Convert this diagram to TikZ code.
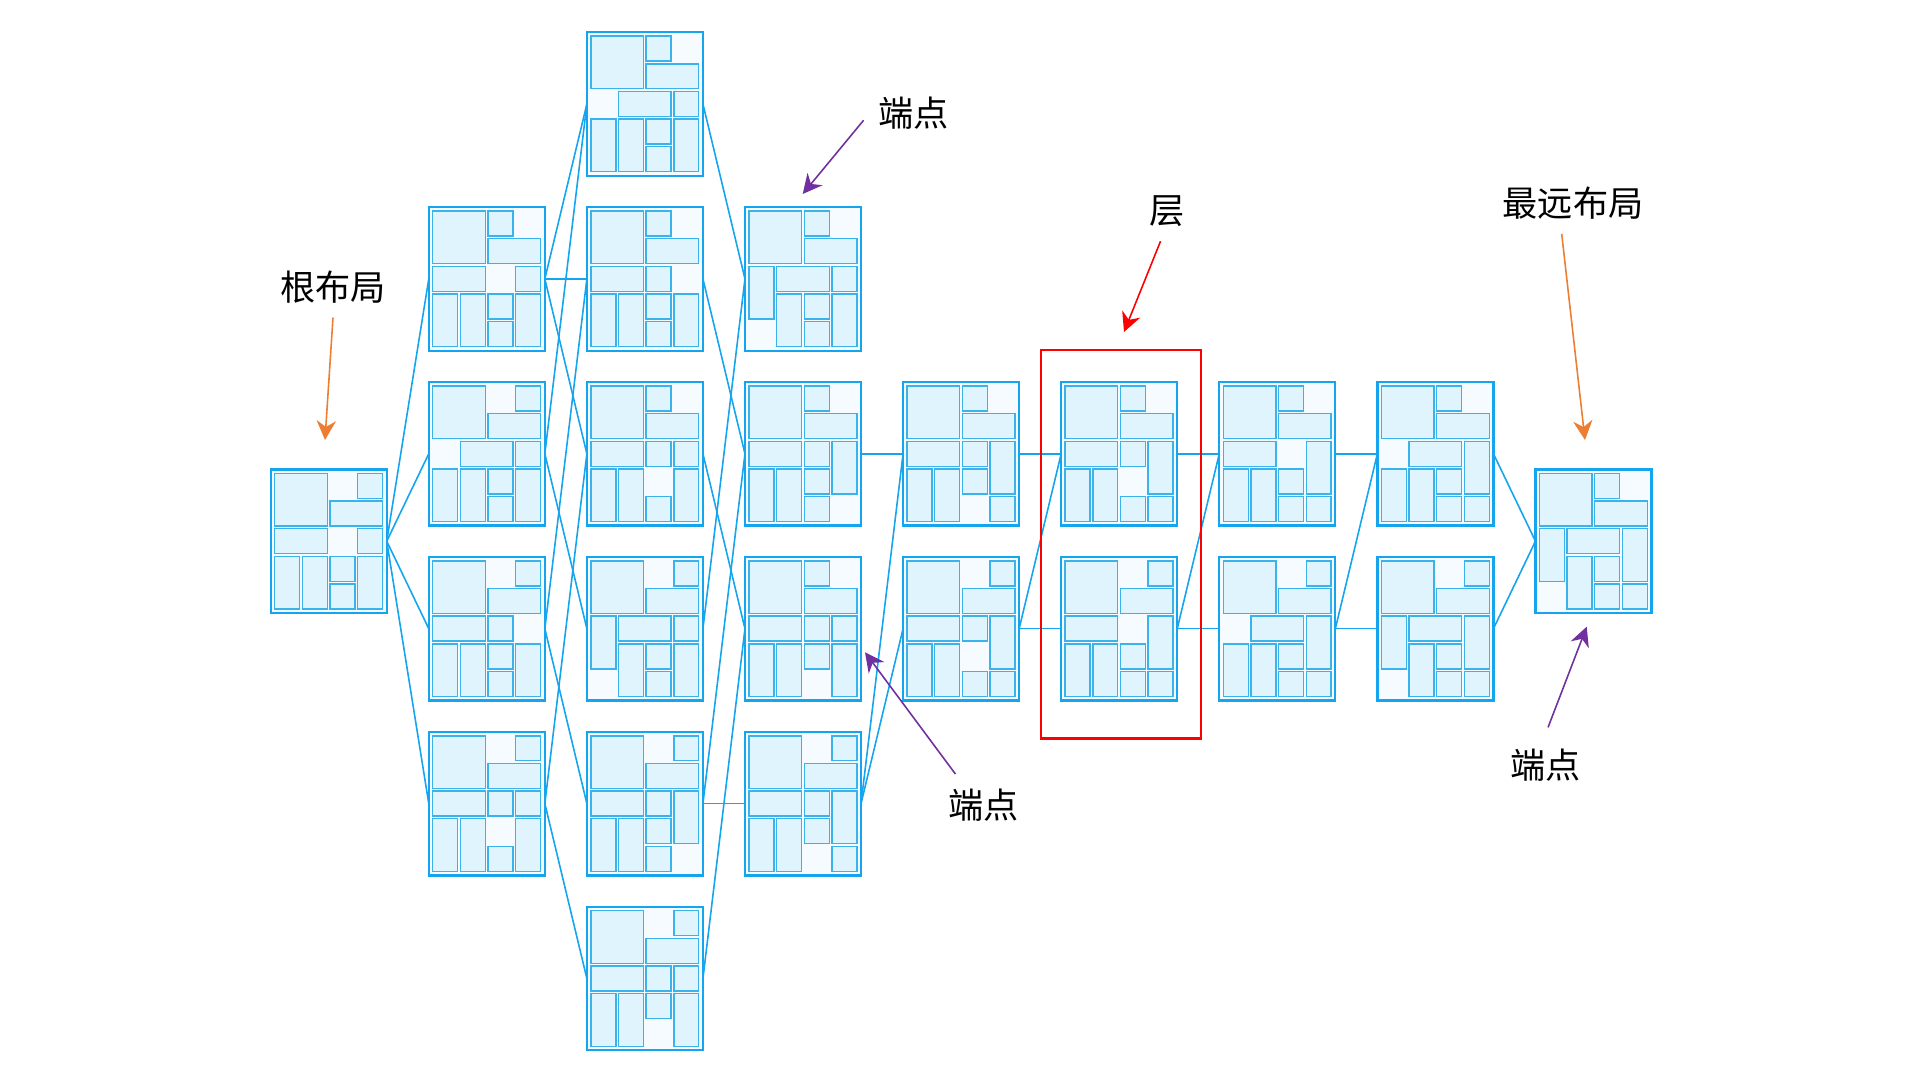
\documentclass[tikz,border=0pt]{standalone}
\usepackage{fontspec}
\newfontfamily\cjk{Noto Sans CJK SC}
\usepackage{tikz}
\usetikzlibrary{arrows.meta,calc,positioning}
\definecolor{cardline}{HTML}{14A5EE}
\definecolor{cardfill}{HTML}{F5FBFE}
\definecolor{cellfill}{HTML}{E0F4FD}
\definecolor{cellline}{HTML}{3AB2EC}
\definecolor{arrorange}{HTML}{ED7D31}
\definecolor{arrpurple}{HTML}{7030A0}
\tikzset{
 card/.style={draw=cardline,fill=cardfill,line width=0.65pt,minimum width=1.16cm,minimum height=1.435cm,inner sep=0pt,outer sep=0pt},
 cellbox/.style={draw=cellline,fill=cellfill,line width=0.4pt},
 linkline/.style={draw=cardline,line width=0.45pt},
 lbl/.style={font=\cjk\fontsize{10}{12}\selectfont,inner sep=4pt},
 hint/.style={-{Stealth[length=5.5pt,width=5.5pt,inset=1.8pt]},line width=0.45pt},
}
% one layout: name, centre, cells col/row/width/height on a 4x5 grid
\newcommand{\layoutcard}[3]{%
 \node[card] (#1) at (#2) {};
 \begin{scope}[shift={(#1.north west)}]
 \foreach \cc/\rr/\ww/\hh in {#3}
  \draw[cellbox] (4+27.65*\cc,4+27.65*\rr) rectangle ++(27.65*\ww-2.7,27.65*\hh-2.7);
 \end{scope}}

\begin{document}
\begin{tikzpicture}[x=0.01cm,y=-0.01cm]
\useasboundingbox (0,0) rectangle (1920,1080);
% root
\layoutcard{R}{328.7,541.2}{0/0/2/2,3/0/1/1,2/1/2/1,0/2/2/1,3/2/1/1,0/3/1/2,1/3/1/2,2/3/1/1,2/4/1/1,3/3/1/2}
% first layer
\layoutcard{A2}{486.8,278.9}{0/0/2/2,2/0/1/1,2/1/2/1,0/2/2/1,3/2/1/1,0/3/1/2,1/3/1/2,2/3/1/1,2/4/1/1,3/3/1/2}
\layoutcard{A3}{486.8,453.8}{0/0/2/2,3/0/1/1,2/1/2/1,1/2/2/1,3/2/1/1,0/3/1/2,1/3/1/2,2/3/1/1,2/4/1/1,3/3/1/2}
\layoutcard{A4}{486.8,628.7}{0/0/2/2,3/0/1/1,2/1/2/1,0/2/2/1,2/2/1/1,0/3/1/2,1/3/1/2,2/3/1/1,2/4/1/1,3/3/1/2}
\layoutcard{A5}{486.8,803.6}{0/0/2/2,3/0/1/1,2/1/2/1,0/2/2/1,2/2/1/1,3/2/1/1,0/3/1/2,1/3/1/2,2/4/1/1,3/3/1/2}
% second layer
\layoutcard{B1}{644.9,104}{0/0/2/2,2/0/1/1,2/1/2/1,1/2/2/1,3/2/1/1,0/3/1/2,1/3/1/2,2/3/1/1,2/4/1/1,3/3/1/2}
\layoutcard{B2}{644.9,278.9}{0/0/2/2,2/0/1/1,2/1/2/1,0/2/2/1,2/2/1/1,0/3/1/2,1/3/1/2,2/3/1/1,2/4/1/1,3/3/1/2}
\layoutcard{B3}{644.9,453.8}{0/0/2/2,2/0/1/1,2/1/2/1,0/2/2/1,2/2/1/1,3/2/1/1,0/3/1/2,1/3/1/2,2/4/1/1,3/3/1/2}
\layoutcard{B4}{644.9,628.7}{0/0/2/2,3/0/1/1,2/1/2/1,0/2/1/2,1/2/2/1,3/2/1/1,1/3/1/2,2/3/1/1,2/4/1/1,3/3/1/2}
\layoutcard{B5}{644.9,803.6}{0/0/2/2,3/0/1/1,2/1/2/1,0/2/2/1,2/2/1/1,3/2/1/2,0/3/1/2,1/3/1/2,2/3/1/1,2/4/1/1}
\layoutcard{B6}{644.9,978.5}{0/0/2/2,3/0/1/1,2/1/2/1,0/2/2/1,2/2/1/1,3/2/1/1,0/3/1/2,1/3/1/2,2/3/1/1,3/3/1/2}
% third layer
\layoutcard{C2}{803,278.9}{0/0/2/2,2/0/1/1,2/1/2/1,0/2/1/2,1/2/2/1,3/2/1/1,1/3/1/2,2/3/1/1,2/4/1/1,3/3/1/2}
\layoutcard{C3}{803,453.8}{0/0/2/2,2/0/1/1,2/1/2/1,0/2/2/1,2/2/1/1,3/2/1/2,0/3/1/2,1/3/1/2,2/3/1/1,2/4/1/1}
\layoutcard{C4}{803,628.7}{0/0/2/2,2/0/1/1,2/1/2/1,0/2/2/1,2/2/1/1,3/2/1/1,0/3/1/2,1/3/1/2,2/3/1/1,3/3/1/2}
\layoutcard{C5}{803,803.6}{0/0/2/2,3/0/1/1,2/1/2/1,0/2/2/1,2/2/1/1,3/2/1/2,0/3/1/2,1/3/1/2,2/3/1/1,3/4/1/1}
% later layers
\layoutcard{D3}{961.1,453.8}{0/0/2/2,2/0/1/1,2/1/2/1,0/2/2/1,2/2/1/1,3/2/1/2,0/3/1/2,1/3/1/2,2/3/1/1,3/4/1/1}
\layoutcard{D4}{961.1,628.7}{0/0/2/2,3/0/1/1,2/1/2/1,0/2/2/1,2/2/1/1,3/2/1/2,0/3/1/2,1/3/1/2,2/4/1/1,3/4/1/1}
\layoutcard{E3}{1119.2,453.8}{0/0/2/2,2/0/1/1,2/1/2/1,0/2/2/1,2/2/1/1,3/2/1/2,0/3/1/2,1/3/1/2,2/4/1/1,3/4/1/1}
\layoutcard{E4}{1119.2,628.7}{0/0/2/2,3/0/1/1,2/1/2/1,0/2/2/1,3/2/1/2,0/3/1/2,1/3/1/2,2/3/1/1,2/4/1/1,3/4/1/1}
\layoutcard{F3}{1277.3,453.8}{0/0/2/2,2/0/1/1,2/1/2/1,0/2/2/1,3/2/1/2,0/3/1/2,1/3/1/2,2/3/1/1,2/4/1/1,3/4/1/1}
\layoutcard{F4}{1277.3,628.7}{0/0/2/2,3/0/1/1,2/1/2/1,1/2/2/1,3/2/1/2,0/3/1/2,1/3/1/2,2/3/1/1,2/4/1/1,3/4/1/1}
\layoutcard{G3}{1435.4,453.8}{0/0/2/2,2/0/1/1,2/1/2/1,1/2/2/1,3/2/1/2,0/3/1/2,1/3/1/2,2/3/1/1,2/4/1/1,3/4/1/1}
\layoutcard{G4}{1435.4,628.7}{0/0/2/2,3/0/1/1,2/1/2/1,0/2/1/2,1/2/2/1,3/2/1/2,1/3/1/2,2/3/1/1,2/4/1/1,3/4/1/1}
% farthest
\layoutcard{H}{1593.5,541.2}{0/0/2/2,2/0/1/1,2/1/2/1,0/2/1/2,1/2/2/1,3/2/1/2,1/3/1/2,2/3/1/1,2/4/1/1,3/4/1/1}
\path[linkline]
(R.east) edge (A2.west) (R.east) edge (A3.west) (R.east) edge (A4.west) (R.east) edge (A5.west)
(A2.east) edge (B1.west) (A2.east) edge (B2.west) (A2.east) edge (B3.west)
(A3.east) edge (B1.west) (A3.east) edge (B4.west)
(A4.east) edge (B2.west) (A4.east) edge (B5.west)
(A5.east) edge (B3.west) (A5.east) edge (B6.west)
(B1.east) edge (C2.west) (B2.east) edge (C3.west) (B3.east) edge (C4.west)
(B4.east) edge (C2.west) (B5.east) edge (C3.west) (B5.east) edge (C5.west)
(B6.east) edge (C4.west)
(C3.east) edge (D3.west) (C5.east) edge (D3.west) (C5.east) edge (D4.west)
(D3.east) edge (E3.west) (D4.east) edge (E3.west) (D4.east) edge (E4.west)
(E3.east) edge (F3.west) (E4.east) edge (F3.west) (E4.east) edge (F4.west)
(F3.east) edge (G3.west) (F4.east) edge (G3.west) (F4.east) edge (G4.west)
(G3.east) edge (H.west) (G4.east) edge (H.west);
% layer box
\draw[red,line width=0.6pt] ($(E3.north west)+(-20,-32)$) rectangle ($(E4.south east)+(24,38)$);
% labels
\node[lbl] (lblRoot) at (333,286.7) {根布局};
\node[lbl] (epA) at (913.5,113.3) {端点};
\node[lbl] (lblLayer) at (1167.5,211) {层};
\node[lbl] (lblFar) at (1573,203) {最远布局};
\node[lbl] (epB) at (983.3,805) {端点};
\node[lbl] (epC) at (1545.5,765) {端点};
\coordinate (tipRoot) at (325,440);
\coordinate (tipA) at (802.7,194);
\coordinate (tipLayer) at (1124,332);
\coordinate (tipFar) at (1585,440);
\coordinate (tipB) at (865,652.3);
\coordinate (tipC) at (1586.7,626.7);
\draw[hint,arrorange] (lblRoot.south) -- (tipRoot);
\draw[hint,arrpurple] (epA.188) -- (tipA);
\draw[hint,red] (lblLayer.257) -- (tipLayer);
\draw[hint,arrorange] (lblFar.250) -- (tipFar);
\draw[hint,arrpurple] (epB.132) -- (tipB);
\draw[hint,arrpurple,shorten <=2pt] (epC.north) -- (tipC);
\end{tikzpicture}
\end{document}
